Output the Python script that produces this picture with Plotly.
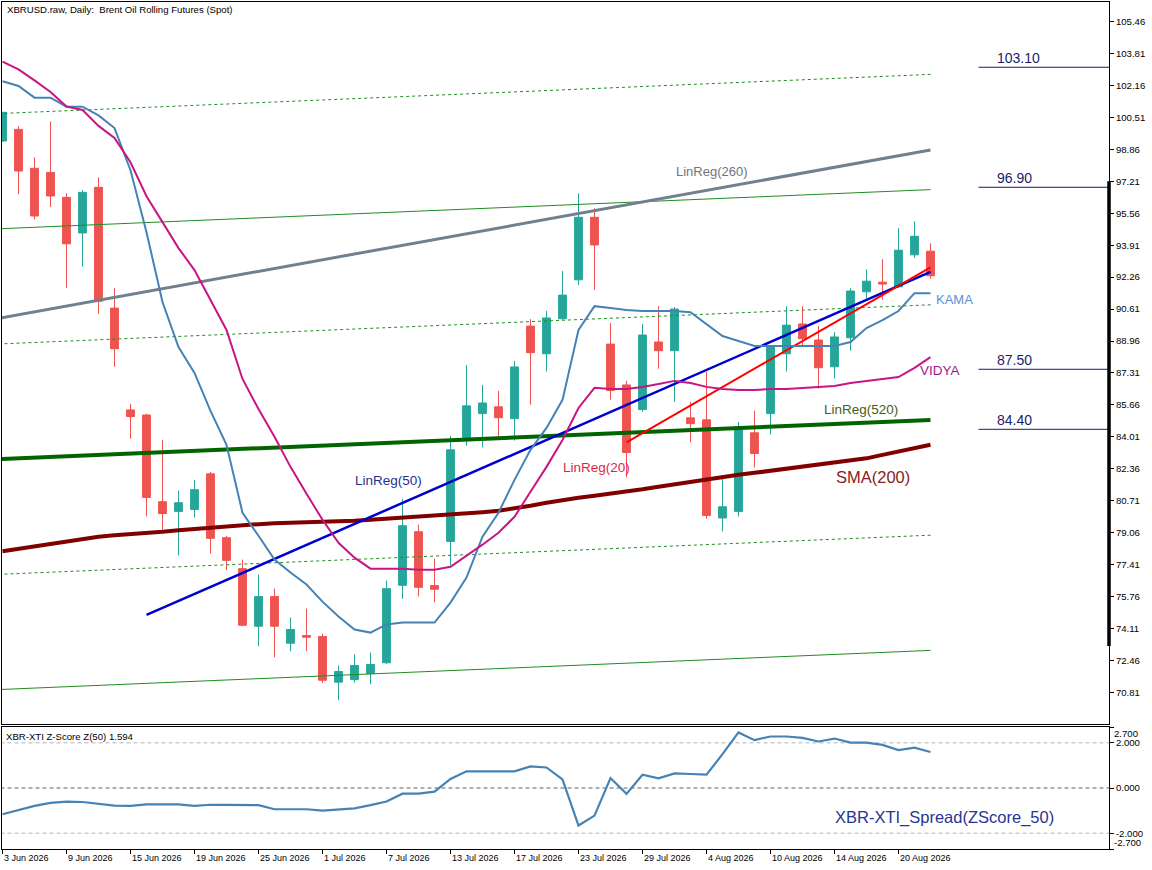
import plotly.graph_objects as go
from plotly.subplots import make_subplots

# XBRUSD daily bars, 3 Jun 2026 .. 24 Aug 2026 (trading days, x = bar number)
open_ = [99.29, 99.89, 97.88, 97.67, 96.38, 94.54, 96.90, 90.66, 85.40, 85.14,
         80.66, 80.16, 80.26, 82.10, 78.80, 77.20, 74.23, 75.76, 73.35, 73.75,
         73.70, 71.34, 71.47, 71.79, 72.34, 76.34, 79.11, 76.33, 78.61, 83.97,
         85.21, 85.56, 84.95, 89.73, 88.30, 90.11, 92.12, 95.35, 88.80, 86.69,
         85.42, 88.91, 88.46, 84.99, 84.89, 79.82, 80.16, 84.22, 85.21, 88.30,
         89.84, 89.01, 87.63, 89.13, 91.50, 92.00, 91.76, 93.41, 93.60]
high = [100.80, 100.05, 98.45, 100.30, 96.59, 96.75, 97.42, 91.69, 85.71, 85.20,
        83.85, 81.22, 81.79, 82.20, 78.90, 77.67, 76.89, 76.17, 74.68, 75.14,
        73.85, 72.20, 72.77, 72.87, 76.58, 80.81, 79.47, 77.72, 84.06, 87.72,
        86.69, 86.38, 87.93, 90.09, 90.51, 92.57, 96.59, 95.82, 89.89, 86.90,
        89.84, 90.76, 90.71, 85.81, 87.38, 82.00, 84.78, 85.35, 88.70, 90.76,
        90.76, 89.73, 89.42, 91.69, 92.67, 93.19, 94.79, 95.15, 94.01]
low = [99.25, 96.54, 95.24, 95.88, 91.71, 92.79, 90.37, 87.63, 83.91, 79.90,
       79.21, 77.89, 79.85, 77.99, 77.12, 74.23, 73.20, 72.63, 72.94, 72.94,
       71.29, 70.41, 71.31, 71.24, 72.29, 75.64, 75.77, 75.46, 77.37, 83.56,
       83.46, 83.92, 83.82, 85.67, 87.38, 90.06, 91.86, 91.60, 85.93, 81.91,
       85.31, 87.53, 85.83, 83.72, 79.77, 79.13, 79.90, 82.43, 84.13, 87.38,
       88.67, 86.50, 87.02, 88.46, 91.14, 91.09, 91.70, 93.26, 92.17]
close = [100.77, 97.74, 95.42, 96.45, 93.98, 96.64, 91.01, 88.56, 85.06, 80.88,
         80.05, 80.61, 81.28, 78.77, 77.63, 74.28, 75.76, 74.23, 74.06, 73.66,
         71.44, 71.89, 72.20, 72.25, 76.17, 79.42, 76.24, 76.14, 83.34, 85.61,
         85.76, 85.00, 87.62, 88.36, 90.15, 91.33, 95.35, 93.92, 86.40, 83.20,
         89.27, 88.46, 90.61, 84.69, 79.95, 80.40, 84.52, 83.15, 88.65, 89.78,
         89.08, 87.58, 89.17, 91.54, 92.05, 91.90, 93.65, 94.37, 92.33]

kama = [102.38, 102.13, 101.53, 101.53, 101.06, 101.06, 100.61, 99.96, 97.78, 94.58,
        90.97, 88.65, 87.31, 85.35, 83.60, 80.09, 78.90, 77.67, 77.00, 76.38,
        75.50, 74.73, 74.06, 73.90, 74.32, 74.42, 74.42, 74.42, 75.45, 76.74,
        78.85, 80.09, 81.79, 83.34, 84.47, 85.92, 89.53, 90.76, 90.66, 90.56,
        90.51, 90.51, 90.51, 90.45, 89.84, 89.22, 88.96, 88.70, 88.70, 88.70,
        88.70, 88.70, 88.70, 88.91, 89.63, 90.04, 90.51, 91.43, 91.43]
vidya = [103.39, 102.99, 102.42, 101.82, 101.07, 100.89, 100.07, 99.45, 98.19, 96.44,
         95.10, 93.76, 92.62, 91.07, 89.53, 87.00, 85.45, 84.01, 82.46, 81.07,
         79.73, 78.54, 77.77, 77.20, 77.20, 77.20, 77.15, 77.15, 77.30, 77.87,
         78.44, 79.06, 79.88, 81.17, 82.46, 83.85, 85.50, 86.54, 86.48, 86.48,
         86.59, 86.74, 86.90, 86.79, 86.59, 86.48, 86.43, 86.43, 86.48, 86.48,
         86.54, 86.59, 86.64, 86.79, 86.90, 87.00, 87.10, 87.57, 88.13]
sma200 = [78.10, 78.23, 78.35, 78.47, 78.59, 78.72, 78.85, 78.93, 78.98, 79.06,
          79.11, 79.19, 79.26, 79.32, 79.39, 79.45, 79.50, 79.55, 79.57, 79.60,
          79.63, 79.65, 79.68, 79.73, 79.78, 79.83, 79.88, 79.94, 79.99, 80.04,
          80.12, 80.19, 80.30, 80.45, 80.61, 80.76, 80.86, 80.97, 81.07, 81.17,
          81.30, 81.43, 81.56, 81.69, 81.82, 81.95, 82.05, 82.15, 82.26, 82.36,
          82.46, 82.57, 82.67, 82.77, 82.90, 83.08, 83.24, 83.42, 83.60]
zscore = [-1.16, -0.99, -0.79, -0.66, -0.60, -0.62, -0.71, -0.78, -0.79, -0.72,
          -0.72, -0.72, -0.79, -0.74, -0.75, -0.76, -0.76, -0.94, -0.94, -0.94,
          -1.00, -0.96, -0.90, -0.76, -0.60, -0.25, -0.25, -0.16, 0.40, 0.74,
          0.74, 0.74, 0.74, 0.96, 0.91, 0.38, -1.66, -1.22, 0.44, -0.26,
          0.59, 0.43, 0.65, 0.62, 0.59, 1.50, 2.46, 2.12, 2.28, 2.28,
          2.22, 2.06, 2.19, 2.01, 2.01, 1.91, 1.68, 1.79, 1.594]

# regression lines: [first bar, value, last bar, value]
linreg520 = [-1, 82.83, 58, 84.88]
linreg260 = [-1, 90.02, 58, 98.83]
linreg50 = [9, 74.81, 58, 92.53]
linreg20 = [39, 83.73, 58, 92.76]
channel_sigma = 5.95
channel_k = [3, 2, 1, -1, -2, -3]

levels = [103.10, 96.90, 87.50, 84.40]
level_bars = [61, 70]
scale_band = [73.21, 97.21]

price_ticks = [105.46, 103.81, 102.16, 100.51, 98.86, 97.21, 95.56, 93.91, 92.26, 90.61, 88.96,
               87.31, 85.66, 84.01, 82.36, 80.71, 79.06, 77.41, 75.76, 74.11, 72.46, 70.81]
z_ticks = [2.7, 2.0, 0.0, -2.0, -2.7]
z_levels = [2.0, 0.0, -2.0]
tick_bars = [0, 4, 8, 12, 16, 20, 24, 28, 32, 36, 40, 44, 48, 52, 56]
tick_labels = ["3 Jun 2026", "9 Jun 2026", "15 Jun 2026", "19 Jun 2026", "25 Jun 2026",
               "1 Jul 2026", "7 Jul 2026", "13 Jul 2026", "17 Jul 2026", "23 Jul 2026",
               "29 Jul 2026", "4 Aug 2026", "10 Aug 2026", "14 Aug 2026", "20 Aug 2026"]

bars = list(range(len(close)))
FONT = "Liberation Sans, Arial, sans-serif"

fig = make_subplots(rows=2, cols=1, shared_xaxes=True, vertical_spacing=0.003)


def seg(r, k=0.0):
    return [r[0], r[2]], [r[1] + k * channel_sigma, r[3] + k * channel_sigma]


# regression channel around LinReg(520)
for k in channel_k:
    xs, ys = seg(linreg520, k)
    fig.add_trace(go.Scatter(x=xs, y=ys, mode="lines", hoverinfo="skip",
                             line=dict(color="#228B22", width=1,
                                       dash="solid" if k % 2 == 0 else "3px,3px")),
                  row=1, col=1)

fig.add_trace(go.Scatter(x=bars, y=sma200, mode="lines", name="SMA(200)",
                         line=dict(color="#800000", width=4)), row=1, col=1)
for r, col, w in [(linreg520, "#006400", 4), (linreg260, "#708090", 3),
                  (linreg50, "#0000CD", 2.5), (linreg20, "#FF0000", 2)]:
    xs, ys = seg(r)
    fig.add_trace(go.Scatter(x=xs, y=ys, mode="lines", line=dict(color=col, width=w)),
                  row=1, col=1)
fig.add_trace(go.Scatter(x=bars, y=kama, mode="lines", name="KAMA",
                         line=dict(color="#4682B4", width=2)), row=1, col=1)
fig.add_trace(go.Scatter(x=bars, y=vidya, mode="lines", name="VIDYA",
                         line=dict(color="#C71585", width=2)), row=1, col=1)

for lv in levels:
    fig.add_trace(go.Scatter(x=level_bars, y=[lv, lv], mode="lines",
                             line=dict(color="#191970", width=1)), row=1, col=1)
    fig.add_annotation(x=level_bars[0] + 1, y=lv, xref="x", yref="y", text=f"{lv:.2f}",
                       xanchor="left", yanchor="bottom", showarrow=False, yshift=-1,
                       font=dict(family=FONT, size=14, color="#1c1c6c"))

fig.add_trace(go.Candlestick(x=bars, open=open_, high=high, low=low, close=close,
                             increasing=dict(line=dict(color="#26A69A", width=1), fillcolor="#26A69A"),
                             decreasing=dict(line=dict(color="#EF5350", width=1), fillcolor="#EF5350"),
                             name="XBRUSD"), row=1, col=1)

# lower panel: spread z-score
for lv in z_levels:
    fig.add_trace(go.Scatter(x=[-1, 70], y=[lv, lv], mode="lines",
                             line=dict(color="#606060" if lv == 0 else "#b4b4b4", width=1,
                                       dash="4px,3px")), row=2, col=1)
fig.add_trace(go.Scatter(x=bars, y=zscore, mode="lines", name="Z-Score",
                         line=dict(color="#4682B4", width=2.2)), row=2, col=1)

labels = [
    ("LinReg(260)", 42.0, 97.71, 13, "#6f7580"),
    ("LinReg(50)", 21.97, 81.75, 13.5, "#1f2f8f"),
    ("LinReg(20)", 34.95, 82.44, 13.5, "#dc1f4b"),
    ("LinReg(520)", 51.3, 85.43, 13.5, "#4a5e10"),
    ("SMA(200)", 52.03, 81.92, 16.5, "#8a1c1c"),
    ("KAMA", 58.28, 91.12, 13, "#5b8fd0"),
    ("VIDYA", 57.28, 87.43, 13.5, "#a01890"),
]
for txt, bx, py, sz, col in labels:
    fig.add_annotation(x=bx, y=py, xref="x", yref="y", text=txt, showarrow=False,
                       xanchor="left", yanchor="middle", borderpad=0,
                       font=dict(family=FONT, size=sz, color=col))

fig.add_annotation(x=51.97, y=-1.31, xref="x2", yref="y2", text="XBR-XTI_Spread(ZScore_50)",
                   showarrow=False, xanchor="left", yanchor="middle", borderpad=0,
                   font=dict(family=FONT, size=16.5, color="#283593"))
fig.add_annotation(x=0.0036, y=0.9906, xref="paper", yref="paper",
                   text="XBRUSD.raw, Daily:&nbsp; Brent Oil Rolling Futures (Spot)",
                   showarrow=False, xanchor="left", yanchor="middle", borderpad=0,
                   font=dict(family=FONT, size=9.6, color="#000000"))
fig.add_annotation(x=0.003, y=0.1334, xref="paper", yref="paper",
                   text="XBR-XTI Z-Score Z(50) 1.594",
                   showarrow=False, xanchor="left", yanchor="middle", borderpad=0,
                   font=dict(family=FONT, size=9.6, color="#000000"))

for b, lab in zip(tick_bars, tick_labels):
    fig.add_annotation(x=b, y=-0.003, xref="x2", yref="paper", text=lab, showarrow=False,
                       xanchor="left", yanchor="top", borderpad=0,
                       font=dict(family=FONT, size=9, color="#000000"))

# outer z-score labels sit just inside the panel, as on the terminal scale
for zv, anchor in [(z_ticks[0], "top"), (z_ticks[-1], "bottom")]:
    fig.add_annotation(x=1, y=zv, xref="paper", yref="y2", text=f"{zv:.3f}", showarrow=False,
                       xanchor="left", yanchor=anchor, xshift=4, borderpad=0,
                       font=dict(family=FONT, size=9.6, color="#000000"))

# range marker on the price scale
fig.add_shape(type="line", xref="paper", yref="y", x0=1, x1=1,
              y0=scale_band[0], y1=scale_band[1], line=dict(color="black", width=3.5))

axis_common = dict(showline=True, mirror=True, linecolor="black", linewidth=1,
                   showgrid=False, zeroline=False)
fig.update_xaxes(range=[-0.031, 69.156], rangeslider_visible=False, **axis_common)
fig.update_xaxes(ticks="", showticklabels=False, row=1, col=1)
fig.update_xaxes(ticks="outside", ticklen=4, tickcolor="black", tickvals=tick_bars,
                 showticklabels=False, row=2, col=1)
fig.update_yaxes(side="right", ticks="outside", ticklen=4, tickcolor="black",
                 tickfont=dict(family=FONT, size=9.6, color="black"), **axis_common)
fig.update_yaxes(range=[69.153, 106.47], tickvals=price_ticks, tickformat=".2f",
                 domain=[0.147, 1.0], row=1, col=1)
fig.update_yaxes(range=[-2.7, 2.7], tickvals=z_ticks,
                 ticktext=["", "2.000", "0.000", "-2.000", ""],
                 domain=[0.0, 0.144], row=2, col=1)

fig.update_layout(width=1152, height=870,
                  margin=dict(l=2, r=43, t=2, b=21, autoexpand=False),
                  paper_bgcolor="white", plot_bgcolor="white", showlegend=False,
                  hovermode=False)

# page without the default body margin, so the figure sits at the window origin
fig.write_html("out.html", config={"displayModeBar": False},
               post_script="document.body.style.margin='0';document.body.style.overflow='hidden';")
